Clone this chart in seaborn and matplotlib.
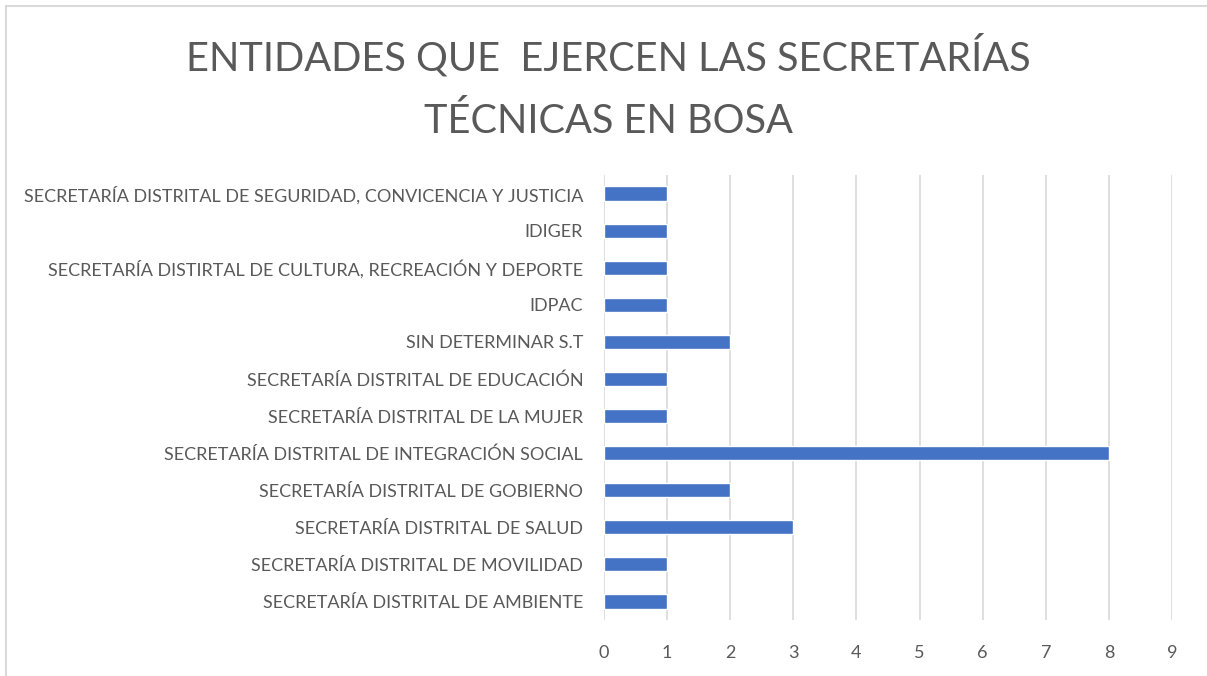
import matplotlib
matplotlib.use("Agg")
import matplotlib.pyplot as plt
import seaborn as sns
import pandas as pd
from matplotlib.patches import Rectangle

# entidades, de arriba hacia abajo como en el grafico
entidades = [
    "SECRETARÍA DISTRITAL DE SEGURIDAD, CONVICENCIA Y JUSTICIA",
    "IDIGER",
    "SECRETARÍA DISTIRTAL DE CULTURA, RECREACIÓN Y DEPORTE",
    "IDPAC",
    "SIN DETERMINAR S.T",
    "SECRETARÍA DISTRITAL DE EDUCACIÓN",
    "SECRETARÍA DISTRITAL DE LA MUJER",
    "SECRETARÍA DISTRITAL DE INTEGRACIÓN SOCIAL",
    "SECRETARÍA DISTRITAL DE GOBIERNO",
    "SECRETARÍA DISTRITAL DE SALUD",
    "SECRETARÍA DISTRITAL DE MOVILIDAD",
    "SECRETARÍA DISTRITAL DE AMBIENTE",
]
cantidad = [1, 1, 1, 1, 2, 1, 1, 8, 2, 3, 1, 1]
x_ticks = list(range(0, 10))

titulo = "ENTIDADES QUE  EJERCEN LAS SECRETARÍAS\nTÉCNICAS EN BOSA"

sns.set_style("white")
plt.rcParams["font.family"] = ["Lato", "DejaVu Sans"]

gris = "#595959"
azul = "#4472C4"

df = pd.DataFrame({"entidad": entidades, "cantidad": cantidad})

fig = plt.figure(figsize=(12.07, 6.76), dpi=100)
ax = fig.add_axes([604 / 1207, 1 - 620 / 676, (1172 - 604) / 1207, (620 - 175) / 676])

sns.barplot(data=df, x="cantidad", y="entidad", orient="h", color=azul,
            width=0.38, saturation=1, ax=ax, zorder=3)

ax.set_xlim(0, 9)
ax.set_xticks(x_ticks)
ax.set_ylim(len(entidades) - 0.5, -0.5)
ax.grid(axis="x", color="#D9D9D9", linewidth=1.2, zorder=0)
ax.grid(axis="y", visible=False)
for s in ax.spines.values():
    s.set_visible(False)
ax.tick_params(axis="y", length=0, pad=15, labelsize=13, labelcolor=gris)
ax.tick_params(axis="x", length=0, pad=18, labelsize=13, labelcolor=gris)
ax.set_xlabel("")
ax.set_ylabel("")

fig.text(608 / 1207, 1 - 87 / 676, titulo, ha="center", va="center",
         fontsize=28.6, color=gris, linespacing=1.77)

fig.patches.append(Rectangle((6 / 1207, -0.05), 1.1, 1 - 6 / 676 + 0.05,
                             transform=fig.transFigure, fill=False,
                             edgecolor="#D9D9D9", linewidth=1.5))

fig.savefig("out.png", dpi=100)
